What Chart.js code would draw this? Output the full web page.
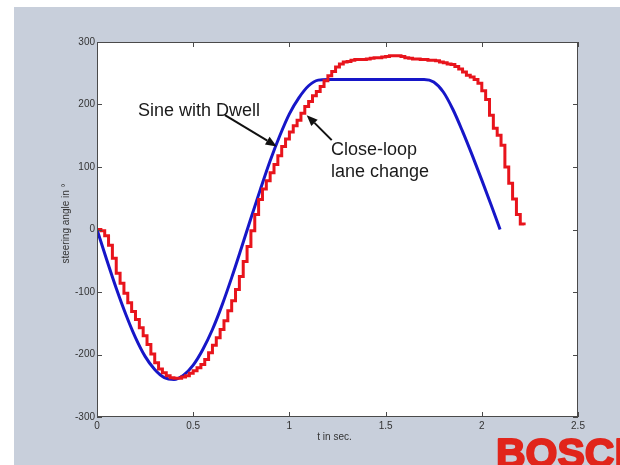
<!DOCTYPE html>
<html>
<head>
<meta charset="utf-8">
<script src="https://cdn.jsdelivr.net/npm/chart.js@4.4.1/dist/chart.umd.min.js"></script>
<style>
  html, body { margin: 0; padding: 0; background: #fff; }
  #wrap { width: 620px; height: 465px; }
</style>
</head>
<body>
<div id="wrap"><canvas id="steerChart" width="620" height="465"></canvas></div>
<script>
// sine with dwell (reference manoeuvre)
const blueTimes = [0, 0.05, 0.1, 0.15, 0.2, 0.25, 0.3, 0.35, 0.4, 0.45, 0.5, 0.55, 0.6, 0.65, 0.7, 0.75,
    0.8, 0.85, 0.9, 0.95, 1.0, 1.05, 1.1, 1.15, 1.2, 1.3, 1.4, 1.5, 1.6, 1.7, 1.75, 1.8, 1.85, 1.9,
    1.95, 2.0, 2.05, 2.095];
const blueValues = [0, -48, -94, -136, -173, -203, -224, -237, -240, -233, -217, -192, -160, -121, -77, -30,
    18, 65, 110, 150, 185, 211, 230, 239, 240, 240, 240, 240, 240, 240, 236, 220, 192, 157,
    119, 79, 38, 0];

// close-loop lane change, sampled every 0.02 s
const redStep = 0.02;
const redValues = [0, -2, -10, -25, -46, -70, -86, -102, -117, -131,
    -144, -157, -170, -184, -199, -213, -223, -229, -234, -237,
    -238, -238, -236, -234, -230, -226, -221, -216, -208, -197,
    -185, -173, -160, -146, -130, -114, -96, -75, -51, -27,
    -2, 24, 48, 65, 78, 91, 104, 118, 133, 145,
    156, 166, 175, 186, 197, 205, 214, 221, 229, 238,
    246, 253, 260, 265, 268, 269, 271, 272, 272, 272,
    273, 274, 275, 275, 276, 277, 278, 278, 278, 277,
    275, 274, 273, 273, 272, 272, 271, 271, 270, 268,
    267, 265, 264, 261, 257, 252, 247, 244, 240, 234,
    222, 208, 183, 162, 151, 135, 100, 74, 49, 24,
    9, 7];

const xTicks = [0, 0.5, 1, 1.5, 2, 2.5];
const yTicks = [-300, -200, -100, 0, 100, 200, 300];

const xTitle = 't in sec.';
const yTitle = 'steering angle in \u00b0';

// annotations in data units
const notes = [
    { lines: ['Sine with Dwell'], t: 0.213, v: 182 },
    { lines: ['Close-loop', 'lane change'], t: 1.216, v: 119 }
];
const arrows = [
    { from: [0.665, 183], to: [0.934, 133] },
    { from: [1.22, 143], to: [1.09, 183] }
];

const FONT = '"Liberation Sans", Arial, sans-serif';

const bluePoints = blueTimes.map((t, i) => ({ x: t, y: blueValues[i] }));
const redPoints = redValues.map((v, i) => ({ x: +(i * redStep).toFixed(3), y: v }));

const decor = {
    id: 'decor',
    beforeDraw(chart) {
        const ctx = chart.ctx;
        ctx.save();
        ctx.fillStyle = '#ffffff';
        ctx.fillRect(0, 0, chart.width, chart.height);
        ctx.fillStyle = '#c8cfdb';
        ctx.fillRect(14, 7, chart.width - 14, chart.height - 7);
        const a = chart.chartArea;
        ctx.fillStyle = '#ffffff';
        ctx.fillRect(a.left, a.top, a.right - a.left, a.bottom - a.top);
        ctx.restore();
    },
    afterDraw(chart) {
        const ctx = chart.ctx;
        const a = chart.chartArea;
        const xs = chart.scales.x, ys = chart.scales.y;
        ctx.save();
        // box and inward ticks
        ctx.strokeStyle = '#4a4a4a';
        ctx.lineWidth = 1;
        ctx.strokeRect(a.left + 0.5, a.top + 0.5, a.right - a.left - 1, a.bottom - a.top - 1);
        ctx.beginPath();
        xTicks.forEach(t => {
            const px = Math.round(xs.getPixelForValue(t)) + 0.5;
            ctx.moveTo(px, a.bottom); ctx.lineTo(px, a.bottom - 5);
            ctx.moveTo(px, a.top); ctx.lineTo(px, a.top + 5);
        });
        yTicks.forEach(v => {
            const py = Math.round(ys.getPixelForValue(v)) + 0.5;
            ctx.moveTo(a.left, py); ctx.lineTo(a.left + 5, py);
            ctx.moveTo(a.right, py); ctx.lineTo(a.right - 5, py);
        });
        ctx.stroke();

        // axis titles
        ctx.fillStyle = '#333';
        ctx.font = '10px ' + FONT;
        ctx.textAlign = 'center';
        ctx.textBaseline = 'middle';
        ctx.fillText(xTitle, (a.left + a.right) / 2 - 3, 437);
        ctx.save();
        ctx.translate(66, (a.top + a.bottom) / 2 - 6);
        ctx.rotate(-Math.PI / 2);
        ctx.fillText(yTitle, 0, 0);
        ctx.restore();

        // annotations
        ctx.fillStyle = '#1a1a1a';
        ctx.font = '18px ' + FONT;
        ctx.textAlign = 'left';
        ctx.textBaseline = 'alphabetic';
        notes.forEach(n => {
            const x = xs.getPixelForValue(n.t), y = ys.getPixelForValue(n.v);
            n.lines.forEach((s, i) => ctx.fillText(s, x, y + i * 22));
        });
        ctx.strokeStyle = '#111';
        ctx.fillStyle = '#111';
        ctx.lineWidth = 2;
        arrows.forEach(ar => {
            const x0 = xs.getPixelForValue(ar.from[0]), y0 = ys.getPixelForValue(ar.from[1]);
            const x1 = xs.getPixelForValue(ar.to[0]), y1 = ys.getPixelForValue(ar.to[1]);
            const ang = Math.atan2(y1 - y0, x1 - x0);
            const hl = 11, hw = 4.5;
            const bx = x1 - hl * Math.cos(ang), by = y1 - hl * Math.sin(ang);
            ctx.beginPath();
            ctx.moveTo(x0, y0); ctx.lineTo(bx, by);
            ctx.stroke();
            ctx.beginPath();
            ctx.moveTo(x1, y1);
            ctx.lineTo(bx + hw * Math.sin(ang), by - hw * Math.cos(ang));
            ctx.lineTo(bx - hw * Math.sin(ang), by + hw * Math.cos(ang));
            ctx.closePath();
            ctx.fill();
        });

        // logo
        ctx.fillStyle = '#e1251b';
        ctx.strokeStyle = '#e1251b';
        ctx.lineWidth = 2;
        ctx.lineJoin = 'round';
        ctx.font = 'bold 41px ' + FONT;
        ctx.fillText('BOSCH', 496, 467);
        ctx.strokeText('BOSCH', 496, 467);
        ctx.restore();
    }
};

new Chart(document.getElementById('steerChart'), {
    type: 'line',
    data: {
        datasets: [
            {
                label: 'Sine with Dwell',
                data: bluePoints,
                borderColor: '#1616c8',
                borderWidth: 3,
                pointRadius: 0,
                cubicInterpolationMode: 'monotone',
                order: 2
            },
            {
                label: 'Close-loop lane change',
                data: redPoints,
                borderColor: '#e8141c',
                borderWidth: 3,
                pointRadius: 0,
                stepped: 'before',
                order: 1
            }
        ]
    },
    options: {
        responsive: false,
        animation: false,
        devicePixelRatio: 1,
        layout: { padding: { left: 0, top: 42, right: 42, bottom: 0 } },
        plugins: { legend: { display: false }, tooltip: { enabled: false } },
        scales: {
            x: {
                type: 'linear',
                min: 0, max: 2.5,
                afterFit: s => { s.height = 48; },
                afterBuildTicks: s => { s.ticks = xTicks.map(v => ({ value: v })); },
                grid: { display: false, drawTicks: false },
                border: { display: false },
                ticks: {
                    padding: 3, color: '#333', font: { family: FONT, size: 10 }, maxRotation: 0,
                    callback: v => String(v)
                }
            },
            y: {
                type: 'linear',
                min: -300, max: 300,
                afterFit: s => { s.width = 97; },
                afterBuildTicks: s => { s.ticks = yTicks.map(v => ({ value: v })); },
                grid: { display: false, drawTicks: false },
                border: { display: false },
                ticks: { padding: 2, color: '#333', font: { family: FONT, size: 10 } }
            }
        }
    },
    plugins: [decor]
});
</script>
</body>
</html>
